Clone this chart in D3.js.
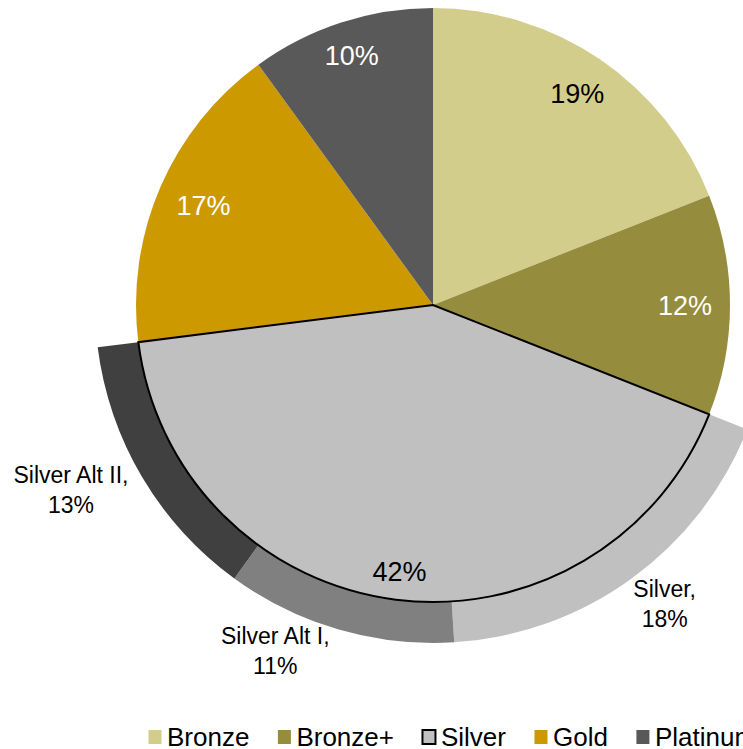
<!DOCTYPE html>
<html>
<head>
<meta charset="utf-8">
<script src="https://cdn.jsdelivr.net/npm/d3@7"></script>
<style>
  body { margin: 0; background: #fff; overflow: hidden; }
  svg { display: block; font-family: "Liberation Sans", Arial, sans-serif; }
</style>
</head>
<body>
<div id="chart"></div>
<script>
// main pie
var tiers = ["Bronze", "Bronze+", "Silver", "Gold", "Platinum"];
var tierShare = [19, 12, 42, 17, 10];
var tierColor = ["#D3CD8C", "#968C3E", "#C0C0C0", "#CC9900", "#595959"];
var tierLabelColor = ["#000", "#fff", "#000", "#fff", "#fff"];

// breakdown of the Silver slice
var silverParts = ["Silver", "Silver Alt I", "Silver Alt II"];
var silverShare = [18, 11, 13];
var silverColor = ["#C0C0C0", "#808080", "#404040"];

var width = 743, height = 749,
  cx = 433, cy = 305,
  radius = 297, ringOuter = 338;

var svg = d3.select("#chart").append("svg")
  .attr("width", width)
  .attr("height", height);

var g = svg.append("g").attr("transform", "translate(" + cx + "," + cy + ")");

var pie = d3.pie().sort(null).value(function(d){ return d; });
var arcs = pie(tierShare);
var arc = d3.arc().innerRadius(0).outerRadius(radius);

var silverArc = arcs[tiers.indexOf("Silver")];

// outer ring spans exactly the silver slice
var ringPie = d3.pie().sort(null).value(function(d){ return d; })
  .startAngle(silverArc.startAngle)
  .endAngle(silverArc.endAngle);
var ringArcs = ringPie(silverShare);
var ringArc = d3.arc().innerRadius(radius).outerRadius(ringOuter);

g.selectAll("path.ring")
  .data(ringArcs)
  .enter().append("path")
  .attr("class", "ring")
  .attr("d", ringArc)
  .attr("fill", function(d, i){ return silverColor[i]; });

g.selectAll("path.slice")
  .data(arcs)
  .enter().append("path")
  .attr("class", "slice")
  .attr("d", arc)
  .attr("fill", function(d, i){ return tierColor[i]; });

// silver slice gets an outline, drawn on top
g.append("path")
  .attr("d", arc(silverArc))
  .attr("fill", "none")
  .attr("stroke", "#000")
  .attr("stroke-width", 2)
  .attr("stroke-linejoin", "miter");

// inside-end labels: push the box until its edge touches labelEdge
var labelEdge = 283, halfW = 31, halfH = 11;
g.selectAll("text.pct")
  .data(arcs)
  .enter().append("text")
  .attr("class", "pct")
  .each(function(d){
    var a = (d.startAngle + d.endAngle) / 2,
      ux = Math.sin(a), uy = -Math.cos(a),
      r = labelEdge - (halfW * Math.abs(ux) + halfH * Math.abs(uy));
    d3.select(this).attr("x", ux * r).attr("y", uy * r);
  })
  .attr("text-anchor", "middle")
  .attr("dy", "0.36em")
  .attr("font-size", 27)
  .attr("fill", function(d, i){ return tierLabelColor[i]; })
  .text(function(d){ return d.data + "%"; });

// outside labels for the ring
var nudge = { "Silver": [7, -10], "Silver Alt I": [-51, -21], "Silver Alt II": [-13, -21] };
var outerLabels = g.selectAll("g.outer")
  .data(ringArcs)
  .enter().append("g")
  .attr("class", "outer");

outerLabels.each(function(d, i){
  var el = d3.select(this),
    name = silverParts[i],
    t = el.append("text")
      .attr("text-anchor", "middle")
      .attr("font-size", 23)
      .attr("fill", "#000");
  t.append("tspan").attr("x", 0).attr("y", -15 + 8).text(name + ",");
  t.append("tspan").attr("x", 0).attr("y", 15 + 8).text(d.data + "%");
  var bb = t.node().getBBox(),
    a = (d.startAngle + d.endAngle) / 2,
    ux = Math.sin(a), uy = -Math.cos(a),
    r = ringOuter + 2 + (bb.width / 2 + 2) * Math.abs(ux) + (bb.height / 2) * Math.abs(uy),
    off = nudge[name] || [0, 0];
  el.attr("transform", "translate(" + (ux * r + off[0]) + "," + (uy * r + off[1]) + ")");
});

// legend along the bottom
var legend = svg.append("g").attr("transform", "translate(148,737)");
var lx = 0;
tiers.forEach(function(name, i){
  var item = legend.append("g").attr("transform", "translate(" + lx + ",0)");
  item.append("rect")
    .attr("x", 0.5).attr("y", -7)
    .attr("width", 13).attr("height", 14)
    .attr("fill", tierColor[i])
    .attr("stroke", name === "Silver" ? "#000" : "none")
    .attr("stroke-width", name === "Silver" ? 2 : 0);
  var txt = item.append("text")
    .attr("x", 19)
    .attr("dy", "0.36em")
    .attr("font-size", 26)
    .attr("fill", "#000")
    .text(name);
  lx += 19 + txt.node().getComputedTextLength() + 28;
});
</script>
</body>
</html>
